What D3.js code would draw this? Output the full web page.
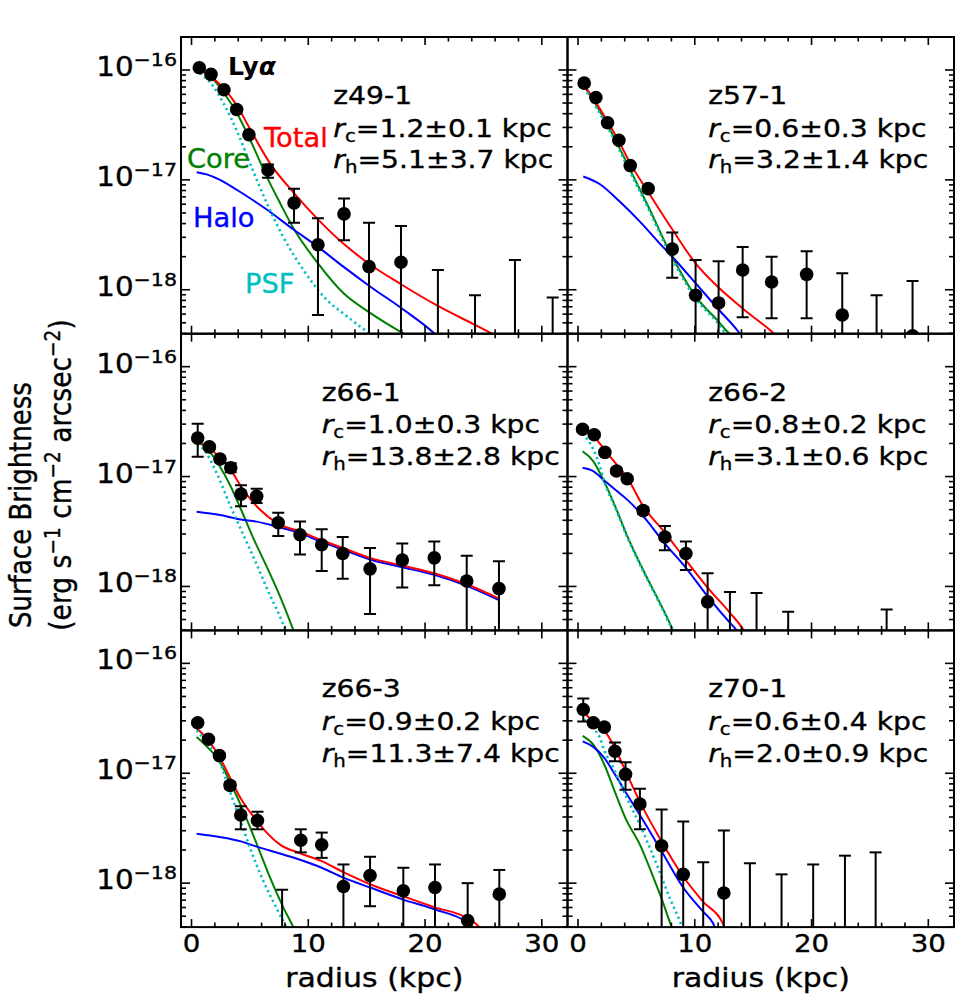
<!DOCTYPE html>
<html><head><meta charset="utf-8">
<script src="https://cdn.jsdelivr.net/npm/d3@7"></script>
<style>body{margin:0;background:#fff}</style>
</head><body><svg id="chart" width="966" height="1006"></svg>
<script>
// ---------------- DATA (log10 surface brightness, erg s^-1 cm^-2 arcsec^-2; radius in kpc) -------------
const panelNames = ["z49-1", "z57-1", "z66-1", "z66-2", "z66-3", "z70-1"];
const rcValues = ["1.2±0.1", "0.6±0.3", "1.0±0.3", "0.8±0.2", "0.9±0.2", "0.6±0.4"];
const rhValues = ["5.1±3.7", "3.2±1.4", "13.8±2.8", "3.1±0.6", "11.3±7.4", "2.0±0.9"];
const xTickLabels = [0, 10, 20, 30];
const yTickExps = [-16, -17, -18];

// z49-1
const z491_r  = [0.67,1.67,2.78,3.87,4.92,6.55,8.78,10.83,13.06,15.2,17.94,21.1,24.28,27.7,30.93];
const z491_sb = [-15.98,-16.04,-16.18,-16.36,-16.59,-16.91,-17.21,-17.59,-17.31,-17.79,-17.75,null,null,null,null];
const z491_hi = [-15.97,-16.03,-16.17,-16.34,-16.57,-16.86,-17.08,-17.35,-17.17,-17.39,-17.42,-17.82,-18.05,-17.73,-18.07];
const z491_lo = [-15.99,-16.05,-16.19,-16.38,-16.61,-16.98,-17.39,-18.23,-17.55,null,null,null,null,null,null];
const z491_total = [[0.6,-15.99],[1.01,-16.01],[1.9,-16.08],[2.78,-16.17],[3.87,-16.32],[4.92,-16.52],[6.72,-16.85],[8.78,-17.12],[10.83,-17.36],[13.0,-17.58],[15.29,-17.77],[17.94,-17.95],[21.14,-18.15],[24.28,-18.32],[25.56,-18.39],[26.5,-18.45]];
const z491_core  = [[0.6,-15.99],[0.87,-16.0],[1.9,-16.09],[2.78,-16.21],[3.87,-16.39],[5.3,-16.70],[6.44,-16.97],[7.58,-17.21],[8.78,-17.45],[10.83,-17.76],[13.0,-18.03],[15.29,-18.21],[17.86,-18.38],[18.5,-18.42]];
const z491_halo  = [[0.44,-16.93],[1.3,-16.95],[2.44,-17.0],[3.87,-17.09],[6.44,-17.27],[8.72,-17.45],[10.83,-17.61],[13.0,-17.79],[15.29,-17.97],[18.14,-18.18],[20.7,-18.39],[21.0,-18.42]];
const z491_psf   = [[0.73,-16.03],[1.87,-16.15],[2.72,-16.30],[3.87,-16.55],[5.01,-16.85],[6.44,-17.21],[7.86,-17.52],[9.58,-17.82],[11.29,-18.06],[13.29,-18.24],[15.0,-18.38],[15.5,-18.42]];

// z57-1
const z571_r  = [0.53,1.53,2.53,3.5,4.47,6.01,8.07,10.07,12.04,14.1,16.58,19.58,22.63,25.57,28.65];
const z571_sb = [-16.12,-16.25,-16.48,-16.64,-16.87,-17.08,-17.63,-18.05,-18.12,-17.82,-17.93,-17.86,-18.23,null,-18.42];
const z571_hi = [-16.11,-16.24,-16.47,-16.63,-16.86,-17.06,-17.48,-17.73,-17.74,-17.61,-17.70,-17.65,-17.85,-18.05,-17.92];
const z571_lo = [-16.13,-16.26,-16.49,-16.65,-16.88,-17.10,-17.89,null,null,-18.25,-18.26,-18.26,null,null,null];
const z571_total = [[0.53,-16.14],[1.5,-16.29],[2.53,-16.47],[3.5,-16.65],[4.47,-16.85],[6.01,-17.11],[8.07,-17.45],[10.07,-17.76],[12.04,-17.98],[14.1,-18.17],[16.58,-18.38],[17.0,-18.42]];
const z571_core  = [[0.53,-16.15],[1.5,-16.31],[2.53,-16.50],[3.5,-16.70],[4.47,-16.91],[6.01,-17.24],[8.07,-17.70],[10.07,-18.06],[12.04,-18.29],[12.87,-18.39],[13.2,-18.42]];
const z571_halo  = [[0.45,-16.97],[1.88,-17.04],[3.59,-17.20],[5.3,-17.38],[7.01,-17.58],[8.07,-17.70],[10.07,-17.94],[12.04,-18.18],[13.72,-18.38],[14.0,-18.42]];
const z571_psf   = [[0.53,-16.16],[1.5,-16.33],[2.53,-16.52],[3.5,-16.72],[4.47,-16.93],[6.01,-17.26],[8.07,-17.72],[10.07,-18.08],[12.04,-18.31],[12.7,-18.40],[13.0,-18.42]];

// z66-1
const z661_r  = [0.53,1.53,2.44,3.36,4.24,5.58,7.43,9.29,11.15,12.95,15.29,18.05,20.79,23.57,26.33];
const z661_sb = [-16.65,-16.73,-16.84,-16.92,-17.16,-17.18,-17.42,-17.53,-17.62,-17.70,-17.84,-17.76,-17.74,-17.95,-18.02];
const z661_hi = [-16.52,-16.71,-16.82,-16.88,-17.08,-17.11,-17.33,-17.41,-17.48,-17.55,-17.65,-17.61,-17.59,-17.72,-17.77];
const z661_lo = [-16.82,-16.75,-16.86,-16.96,-17.27,-17.24,-17.54,-17.71,-17.86,-17.93,-18.25,-18.01,-17.99,null,null];
const z661_total = [[0.44,-16.68],[1.53,-16.74],[2.44,-16.83],[3.36,-16.94],[4.24,-17.09],[5.58,-17.27],[7.43,-17.43],[9.29,-17.50],[11.15,-17.58],[12.95,-17.65],[15.29,-17.74],[18.05,-17.81],[20.79,-17.88],[23.57,-17.98],[26.33,-18.11]];
const z661_core  = [[0.53,-16.68],[1.53,-16.77],[2.44,-16.91],[3.36,-17.09],[4.24,-17.30],[5.29,-17.56],[6.44,-17.82],[7.58,-18.09],[8.66,-18.38],[8.8,-18.42]];
const z661_halo  = [[0.44,-17.32],[2.44,-17.35],[4.24,-17.39],[5.58,-17.41],[7.43,-17.46],[9.29,-17.515],[11.15,-17.595],[12.95,-17.665],[15.29,-17.755],[18.05,-17.825],[20.79,-17.895],[23.57,-17.995],[26.33,-18.125]];
const z661_psf   = [[0.53,-16.70],[1.3,-16.79],[2.16,-16.97],[3.3,-17.26],[4.44,-17.53],[5.58,-17.80],[6.72,-18.08],[7.43,-18.24],[8.0,-18.38],[8.2,-18.42]];

// z66-2
const z662_r  = [0.39,1.39,2.3,3.3,4.21,5.58,7.44,9.24,11.1,13.01,15.29,18.0,26.43];
const z662_sb = [-16.57,-16.62,-16.78,-16.95,-17.02,-17.31,-17.55,-17.70,-18.14,null,null,null,null];
const z662_hi = [-16.55,-16.60,-16.76,-16.93,-17.0,-17.28,-17.45,-17.59,-17.88,-18.05,-18.06,-18.23,-18.21];
const z662_lo = [-16.59,-16.64,-16.80,-16.97,-17.04,-17.34,-17.67,-17.85,null,null,null,null,null];
const z662_total = [[0.39,-16.58],[1.39,-16.64],[2.3,-16.76],[3.3,-16.89],[4.21,-17.01],[5.58,-17.27],[7.44,-17.51],[9.24,-17.76],[11.1,-18.01],[13.01,-18.24],[14.01,-18.37],[14.3,-18.42]];
const z662_core  = [[0.39,-16.77],[1.3,-16.86],[2.3,-17.06],[3.3,-17.30],[4.21,-17.54],[5.58,-17.85],[7.01,-18.15],[8.01,-18.37],[8.2,-18.42]];
const z662_halo  = [[0.39,-16.92],[1.3,-16.95],[2.3,-17.04],[3.3,-17.13],[4.21,-17.21],[5.58,-17.36],[7.44,-17.61],[9.24,-17.83],[11.1,-18.09],[13.01,-18.33],[13.44,-18.38],[13.7,-18.42]];
const z662_psf   = [[0.39,-16.61],[1.3,-16.75],[1.88,-16.91],[2.3,-17.06],[3.3,-17.31],[4.21,-17.55],[5.58,-17.86],[7.01,-18.16],[8.01,-18.38],[8.2,-18.42]];

// z66-3
const z663_r  = [0.53,1.45,2.39,3.3,4.22,5.65,7.76,9.36,11.15,13.01,15.29,18.14,20.85,23.65,26.36];
const z663_sb = [-16.54,-16.69,-16.84,-17.11,-17.38,-17.43,null,-17.61,-17.65,-18.03,-17.93,-18.07,-18.04,-18.34,-18.10];
const z663_hi = [-16.52,-16.67,-16.82,-17.08,-17.30,-17.35,-18.06,-17.51,-17.54,-17.83,-17.76,-17.86,-17.83,-18.0,-17.88];
const z663_lo = [-16.56,-16.71,-16.86,-17.14,-17.51,-17.51,null,-17.72,-17.77,null,-18.21,null,null,null,null];
const z663_total = [[0.44,-16.59],[1.44,-16.70],[2.39,-16.85],[3.3,-17.04],[4.22,-17.23],[5.65,-17.44],[6.44,-17.54],[7.58,-17.65],[9.36,-17.73],[11.15,-17.80],[13.01,-17.90],[15.29,-18.01],[18.14,-18.12],[20.85,-18.22],[23.65,-18.32],[24.56,-18.39],[24.8,-18.42]];
const z663_core  = [[0.44,-16.67],[1.44,-16.77],[2.39,-16.89],[3.3,-17.08],[4.22,-17.29],[5.65,-17.66],[6.73,-17.95],[7.86,-18.22],[8.72,-18.40],[8.9,-18.44]];
const z663_halo  = [[0.44,-17.55],[2.39,-17.58],[4.22,-17.62],[5.65,-17.67],[7.58,-17.73],[9.36,-17.79],[11.15,-17.86],[13.01,-17.95],[15.29,-18.04],[18.14,-18.15],[20.85,-18.24],[23.65,-18.36],[24.3,-18.42]];
const z663_psf   = [[0.44,-16.61],[1.44,-16.74],[2.39,-16.89],[3.3,-17.17],[4.22,-17.44],[5.01,-17.68],[6.15,-17.98],[7.29,-18.23],[8.1,-18.40],[8.3,-18.45]];

// z70-1
const z701_r  = [0.45,1.31,2.25,3.16,4.07,5.30,7.16,9.01,10.72,12.49,14.72,17.43,20.14,22.86,25.49];
const z701_sb = [-16.42,-16.54,-16.58,-16.80,-17.01,-17.28,-17.66,-17.92,null,-18.09,null,null,null,null,null];
const z701_hi = [-16.32,-16.52,-16.56,-16.72,-16.90,-17.14,-17.33,-17.44,-17.81,-17.52,-17.82,-17.92,-17.83,-17.75,-17.72];
const z701_lo = [-16.53,-16.56,-16.60,-16.89,-17.15,-17.51,null,null,null,null,null,null,null,null,null];
const z701_total = [[0.45,-16.44],[1.31,-16.53],[2.25,-16.61],[3.16,-16.77],[4.07,-16.98],[5.30,-17.26],[7.16,-17.62],[9.01,-17.94],[10.72,-18.17],[12.37,-18.36],[12.6,-18.42]];
const z701_core  = [[0.4,-16.66],[1.31,-16.74],[2.25,-16.92],[3.16,-17.17],[4.07,-17.41],[5.30,-17.65],[6.46,-17.95],[7.16,-18.14],[7.88,-18.36],[8.1,-18.42]];
const z701_halo  = [[0.4,-16.71],[1.31,-16.76],[2.25,-16.86],[3.16,-17.01],[4.07,-17.17],[5.30,-17.38],[7.16,-17.71],[9.01,-18.04],[10.72,-18.26],[11.54,-18.36],[11.8,-18.42]];
const z701_psf   = [[0.51,-16.51],[1.31,-16.59],[1.88,-16.68],[2.25,-16.79],[3.16,-16.98],[4.07,-17.20],[5.30,-17.47],[6.74,-17.83],[7.88,-18.14],[8.74,-18.35],[9.0,-18.42]];

// ---------------- BUILD TABLE ----------------
const panels = [
  {r:z491_r, sb:z491_sb, hi:z491_hi, lo:z491_lo, total:z491_total, core:z491_core, halo:z491_halo, psf:z491_psf},
  {r:z571_r, sb:z571_sb, hi:z571_hi, lo:z571_lo, total:z571_total, core:z571_core, halo:z571_halo, psf:z571_psf},
  {r:z661_r, sb:z661_sb, hi:z661_hi, lo:z661_lo, total:z661_total, core:z661_core, halo:z661_halo, psf:z661_psf},
  {r:z662_r, sb:z662_sb, hi:z662_hi, lo:z662_lo, total:z662_total, core:z662_core, halo:z662_halo, psf:z662_psf},
  {r:z663_r, sb:z663_sb, hi:z663_hi, lo:z663_lo, total:z663_total, core:z663_core, halo:z663_halo, psf:z663_psf},
  {r:z701_r, sb:z701_sb, hi:z701_hi, lo:z701_lo, total:z701_total, core:z701_core, halo:z701_halo, psf:z701_psf}
].map((p, i) => Object.assign(p, {name: panelNames[i], rc: rcValues[i], rh: rhValues[i]}));

// ---------------- LAYOUT ----------------
const FONT = "'DejaVu Sans', 'Liberation Sans', sans-serif";
const SX = 1.13;
const colX = [181, 567.5], rowY = [37, 333.7, 630.4];
const pw = 386.5, ph = 296.7;
const COLORS = {total: "#ff0000", core: "#008000", halo: "#0000ff", psf: "#00bfbf"};

const svg = d3.select("#chart");
svg.append("rect").attr("width", 966).attr("height", 1006).attr("fill", "#fff");
svg.append("defs").append("clipPath").attr("id", "pclip")
   .append("rect").attr("x", 0).attr("y", 0).attr("width", pw).attr("height", ph);

const x = d3.scaleLinear().domain([-0.9, 32.2]).range([0, pw]);
const y = d3.scaleLog().domain([Math.pow(10, -18.4), Math.pow(10, -15.7)]).range([ph, 0]);
const Y = v => y(Math.pow(10, v));

function stext(parent, tx, ty, opts = {}) {
  let tr = `translate(${tx},${ty}) scale(${opts.sx || SX},1)`;
  if (opts.rotate) tr += ` rotate(${opts.rotate})`;
  const g = parent.append("g").attr("transform", tr);
  const col = opts.fill || "#000";
  const t = g.append("text")
    .attr("text-anchor", opts.anchor || "start")
    .attr("font-size", opts.size || 24)
    .attr("font-family", FONT)
    .attr("fill", col)
    .attr("stroke", col).attr("stroke-width", opts.weight ? 0 : 0.35);
  if (opts.weight) t.attr("font-weight", opts.weight);
  return t;
}

const line = d3.line().x(d => x(d[0])).y(d => Y(d[1])).curve(d3.curveMonotoneX);

// y tick values
const yMajor = [], yMinor = [];
for (let e = -19; e <= -15; e++) for (let m = 1; m <= 9; m++) {
  const v = m * Math.pow(10, e);
  if (v >= y.domain()[0] && v <= y.domain()[1]) (m === 1 ? yMajor : yMinor).push(v);
}
const xMajor = xTickLabels, xMinor = d3.range(2, 32, 2).filter(v => v % 10 !== 0);

panels.forEach((p, i) => {
  const col = i % 2, row = Math.floor(i / 2);
  const g = svg.append("g").attr("transform", `translate(${colX[col]},${rowY[row]})`);
  const plot = g.append("g").attr("clip-path", "url(#pclip)");

  // model curves
  ["core", "halo", "total", "psf"].forEach(k => {
    plot.append("path").attr("d", line(p[k])).attr("fill", "none")
      .attr("stroke", COLORS[k]).attr("stroke-width", k === "psf" ? 2.6 : 2)
      .attr("stroke-dasharray", k === "psf" ? "2.2,3.3" : null);
  });

  // error bars
  p.r.forEach((r, j) => {
    const cx = x(r);
    const yTop = Y(p.hi[j]);
    const yBot = p.lo[j] === null ? ph + 20 : Y(p.lo[j]);
    plot.append("line").attr("x1", cx).attr("x2", cx).attr("y1", yTop).attr("y2", yBot)
      .attr("stroke", "#000").attr("stroke-width", 2);
    plot.append("line").attr("x1", cx - 6).attr("x2", cx + 6).attr("y1", yTop).attr("y2", yTop)
      .attr("stroke", "#000").attr("stroke-width", 2);
    if (p.lo[j] !== null)
      plot.append("line").attr("x1", cx - 6).attr("x2", cx + 6).attr("y1", yBot).attr("y2", yBot)
        .attr("stroke", "#000").attr("stroke-width", 2);
  });
  // points
  p.r.forEach((r, j) => {
    if (p.sb[j] === null) return;
    plot.append("circle").attr("cx", x(r)).attr("cy", Y(p.sb[j])).attr("r", 6.8).attr("fill", "#000");
  });

  // ticks
  const tk = g.append("g").attr("stroke", "#000").attr("stroke-width", 1.6);
  const tick = (x1, y1, x2, y2) => tk.append("line").attr("x1", x1).attr("y1", y1).attr("x2", x2).attr("y2", y2);
  yMajor.forEach(v => { tick(0, y(v), 9, y(v)); tick(pw, y(v), pw - 9, y(v)); });
  yMinor.forEach(v => { tick(0, y(v), 5, y(v)); tick(pw, y(v), pw - 5, y(v)); });
  xMajor.forEach(v => { tick(x(v), ph, x(v), ph - 8); tick(x(v), 0, x(v), 8); });
  xMinor.forEach(v => { tick(x(v), ph, x(v), ph - 4.5); tick(x(v), 0, x(v), 4.5); });

  // frame
  g.append("rect").attr("width", pw).attr("height", ph).attr("fill", "none")
    .attr("stroke", "#000").attr("stroke-width", 2);

  // annotations
  const ax = i === 0 ? 152.3 : 140.7;
  stext(g, ax, 67, {size: 25}).text(p.name);
  const t1 = stext(g, ax, 99.7, {size: 25});
  t1.append("tspan").attr("font-style", "italic").text("r");
  t1.append("tspan").attr("font-size", "70%").attr("dy", 5).text("c");
  t1.append("tspan").attr("dy", -5).text("=" + p.rc + " kpc");
  const t2 = stext(g, ax, 131.3, {size: 25});
  t2.append("tspan").attr("font-style", "italic").text("r");
  t2.append("tspan").attr("font-size", "70%").attr("dy", 5).text("h");
  t2.append("tspan").attr("dy", -5).text("=" + p.rh + " kpc");

  // y tick labels (left column)
  if (col === 0) {
    yTickExps.forEach(e => {
      const t = stext(svg, colX[0] - 4, rowY[row] + Y(e) + 6, {anchor: "end", size: 26});
      t.append("tspan").text("10");
      t.append("tspan").attr("font-size", "70%").attr("dy", -10).text("−" + Math.abs(e));
    });
  }
  // x tick labels + axis label (bottom row)
  if (row === 2) {
    xTickLabels.forEach(v => {
      stext(svg, colX[col] + x(v), rowY[row] + ph + 24.5, {anchor: "middle", size: 24.5}).text(v);
    });
    stext(svg, colX[col] + pw / 2, 986.7, {anchor: "middle", size: 26.5}).text("radius (kpc)");
  }
});

// legend-like labels in first panel
const ly = stext(svg, 228, 75, {size: 24, weight: "bold", sx: 1.05});
ly.append("tspan").text("Ly");
ly.append("tspan").attr("font-style", "italic").text("α");
stext(svg, 264, 146.7, {size: 26.5, sx: 1.03, fill: COLORS.total}).text("Total");
stext(svg, 187, 168, {size: 26.5, sx: 1.03, fill: COLORS.core}).text("Core");
stext(svg, 193, 227, {size: 26.5, sx: 1.03, fill: COLORS.halo}).text("Halo");
stext(svg, 245, 293, {size: 26.5, sx: 1.03, fill: COLORS.psf}).text("PSF");

// y axis label
const yl1 = stext(svg, 31, 505, {anchor: "middle", size: 26, rotate: -90});
yl1.text("Surface Brightness");
const yl2 = stext(svg, 71, 475, {anchor: "middle", size: 26.5, rotate: -90});
yl2.append("tspan").text("(erg s");
yl2.append("tspan").attr("font-size", "70%").attr("dy", -10).text("−1");
yl2.append("tspan").attr("dy", 10).text(" cm");
yl2.append("tspan").attr("font-size", "70%").attr("dy", -10).text("−2");
yl2.append("tspan").attr("dy", 10).text(" arcsec");
yl2.append("tspan").attr("font-size", "70%").attr("dy", -10).text("−2");
yl2.append("tspan").attr("dy", 10).text(")");
</script></body></html>
